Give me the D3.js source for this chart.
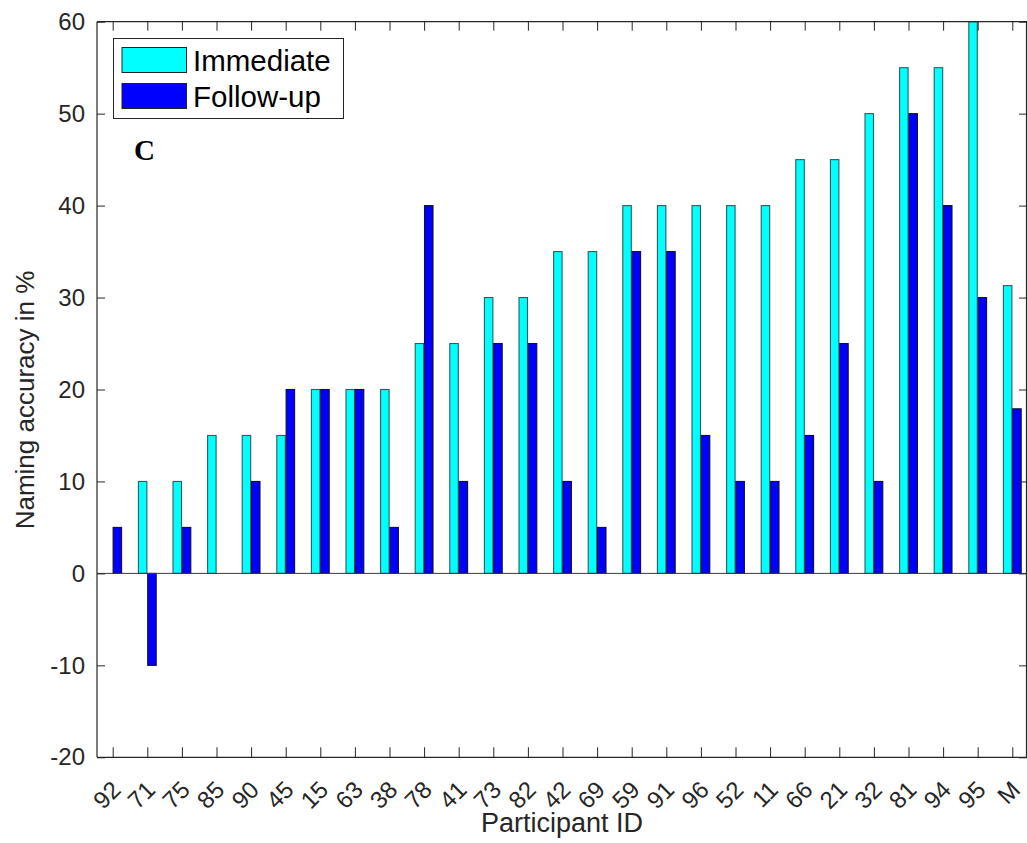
<!DOCTYPE html>
<html>
<head>
<meta charset="utf-8">
<script src="https://cdn.jsdelivr.net/npm/d3@7"></script>
<style>
  html, body { margin: 0; padding: 0; background: #fff; }
  svg { display: block; }
  text { font-family: "Liberation Sans", Arial, Helvetica, sans-serif; fill: #262626; }
  text.panel { font-family: "Liberation Serif", "Times New Roman", serif; font-weight: bold; fill: #000; }
</style>
</head>
<body>
<svg id="chart" width="1027" height="843"></svg>
<script>
// Participant IDs in plotted order, with the group mean ("M") last
const participants = ["92","71","75","85","90","45","15","63","38","78","41","73","82","42","69","59","91","96","52","11","66","21","32","81","94","95","M"];
// Naming accuracy (%) right after therapy
const immediate = [0,10,10,15,15,15,20,20,20,25,25,30,30,35,35,40,40,40,40,40,45,45,50,55,55,60,31.3];
// Naming accuracy (%) at follow-up
const followUp = [5,-10,5,0,10,20,20,20,5,40,10,25,25,10,5,35,35,15,10,10,15,25,10,50,40,30,17.9];
const yTicks = [-20,-10,0,10,20,30,40,50,60];
const seriesNames = ["Immediate", "Follow-up"];
const seriesColors = ["#00ffff", "#0000ff"];

const svg = d3.select("#chart");
const axL = 97, axR = 1027, axT = 21.7, axB = 757.3;

const x = d3.scaleLinear().domain([1, participants.length]).range([112.7, 1012.3]);
const y = d3.scaleLinear().domain([-20, 60]).range([axB, axT]);

const ink = "#262626";
const barW = 0.245, gap = 0.012;

// clip so bars stay inside the axes box
svg.append("defs").append("clipPath").attr("id", "plotClip")
  .append("rect").attr("x", axL).attr("y", axT).attr("width", axR - axL).attr("height", axB - axT);

const plot = svg.append("g").attr("clip-path", "url(#plotClip)");

const rows = participants.map((p, i) => ({ id: p, i: i + 1, vals: [immediate[i], followUp[i]] }));

[0, 1].forEach(s => {
  plot.append("g").selectAll("rect").data(rows).join("rect")
    .attr("x", d => s === 0 ? x(d.i - gap - barW) : x(d.i + gap))
    .attr("width", x(1 + barW) - x(1))
    .attr("y", d => y(Math.max(0, d.vals[s])))
    .attr("height", d => Math.abs(y(d.vals[s]) - y(0)))
    .attr("fill", seriesColors[s])
    .attr("stroke", s === 0 ? "#2d5e5e" : "#101030")
    .attr("stroke-width", 1.1);
});

// bar baseline at zero
svg.append("line").attr("x1", axL).attr("x2", axR).attr("y1", y(0)).attr("y2", y(0))
  .attr("stroke", "#3a3a3a").attr("stroke-width", 1);

// axes box (right edge sits at the page border)
const box = svg.append("g").attr("stroke", ink).attr("stroke-width", 1.2).attr("fill", "none");
box.append("line").attr("x1", axL).attr("x2", axL).attr("y1", axT).attr("y2", axB);
box.append("line").attr("x1", axL).attr("x2", axR).attr("y1", axB).attr("y2", axB);
box.append("line").attr("x1", axL).attr("x2", axR).attr("y1", axT).attr("y2", axT);
box.append("line").attr("x1", axR - 0.5).attr("x2", axR - 0.5).attr("y1", axT).attr("y2", axB);

// y axis (left) with inward ticks
const yAxisL = d3.axisLeft(y).tickValues(yTicks).tickFormat(v => String(v))
  .tickSizeInner(-8).tickSizeOuter(0).tickPadding(12);
const gyL = svg.append("g").attr("transform", `translate(${axL},0)`).call(yAxisL);
gyL.select(".domain").remove();
gyL.selectAll(".tick line").attr("stroke", ink);
gyL.selectAll(".tick text").attr("font-size", 24).attr("fill", ink)
  .attr("font-family", "Liberation Sans, Arial, sans-serif");

// y ticks on the right side
const yAxisR = d3.axisRight(y).tickValues(yTicks).tickSizeInner(-8).tickSizeOuter(0).tickFormat("");
const gyR = svg.append("g").attr("transform", `translate(${axR},0)`).call(yAxisR);
gyR.select(".domain").remove();
gyR.selectAll(".tick line").attr("stroke", ink);

// x axis (bottom) with rotated participant labels
const xAxisB = d3.axisBottom(x).tickValues(rows.map(d => d.i))
  .tickFormat(v => participants[v - 1]).tickSizeInner(-10).tickSizeOuter(0);
const gxB = svg.append("g").attr("transform", `translate(0,${axB})`).call(xAxisB);
gxB.select(".domain").remove();
gxB.selectAll(".tick line").attr("stroke", ink);
gxB.selectAll(".tick text")
  .attr("font-size", 24).attr("fill", ink)
  .attr("font-family", "Liberation Sans, Arial, sans-serif")
  .attr("text-anchor", "end")
  .attr("x", 0).attr("y", 0).attr("dy", "0.35em")
  .attr("transform", "translate(3,28) rotate(-45)");

// x ticks on the top edge
const xAxisT = d3.axisTop(x).tickValues(rows.map(d => d.i)).tickFormat("").tickSizeInner(-9).tickSizeOuter(0);
const gxT = svg.append("g").attr("transform", `translate(0,${axT})`).call(xAxisT);
gxT.select(".domain").remove();
gxT.selectAll(".tick line").attr("stroke", ink);

// axis titles
svg.append("text").attr("x", 562).attr("y", 832).attr("text-anchor", "middle")
  .attr("font-size", 27).text("Participant ID");
svg.append("text").attr("transform", "translate(34,400) rotate(-90)").attr("text-anchor", "middle")
  .attr("font-size", 26).text("Naming accuracy in %");

// panel letter
svg.append("text").attr("class", "panel").attr("x", 134).attr("y", 160)
  .attr("font-size", 29).text("C");

// legend
const lg = svg.append("g");
lg.append("rect").attr("x", 113.5).attr("y", 38.5).attr("width", 230).attr("height", 80)
  .attr("fill", "#fff").attr("stroke", ink).attr("stroke-width", 1);
seriesNames.forEach((name, k) => {
  lg.append("rect").attr("x", 122).attr("y", 47.5 + k * 36).attr("width", 64.5).attr("height", 25)
    .attr("fill", seriesColors[k]).attr("stroke", "#222").attr("stroke-width", 1);
  lg.append("text").attr("x", 193).attr("y", 71 + k * 36).attr("font-size", 29.5)
    .style("fill", "#000").text(name);
});
</script>
</body>
</html>
